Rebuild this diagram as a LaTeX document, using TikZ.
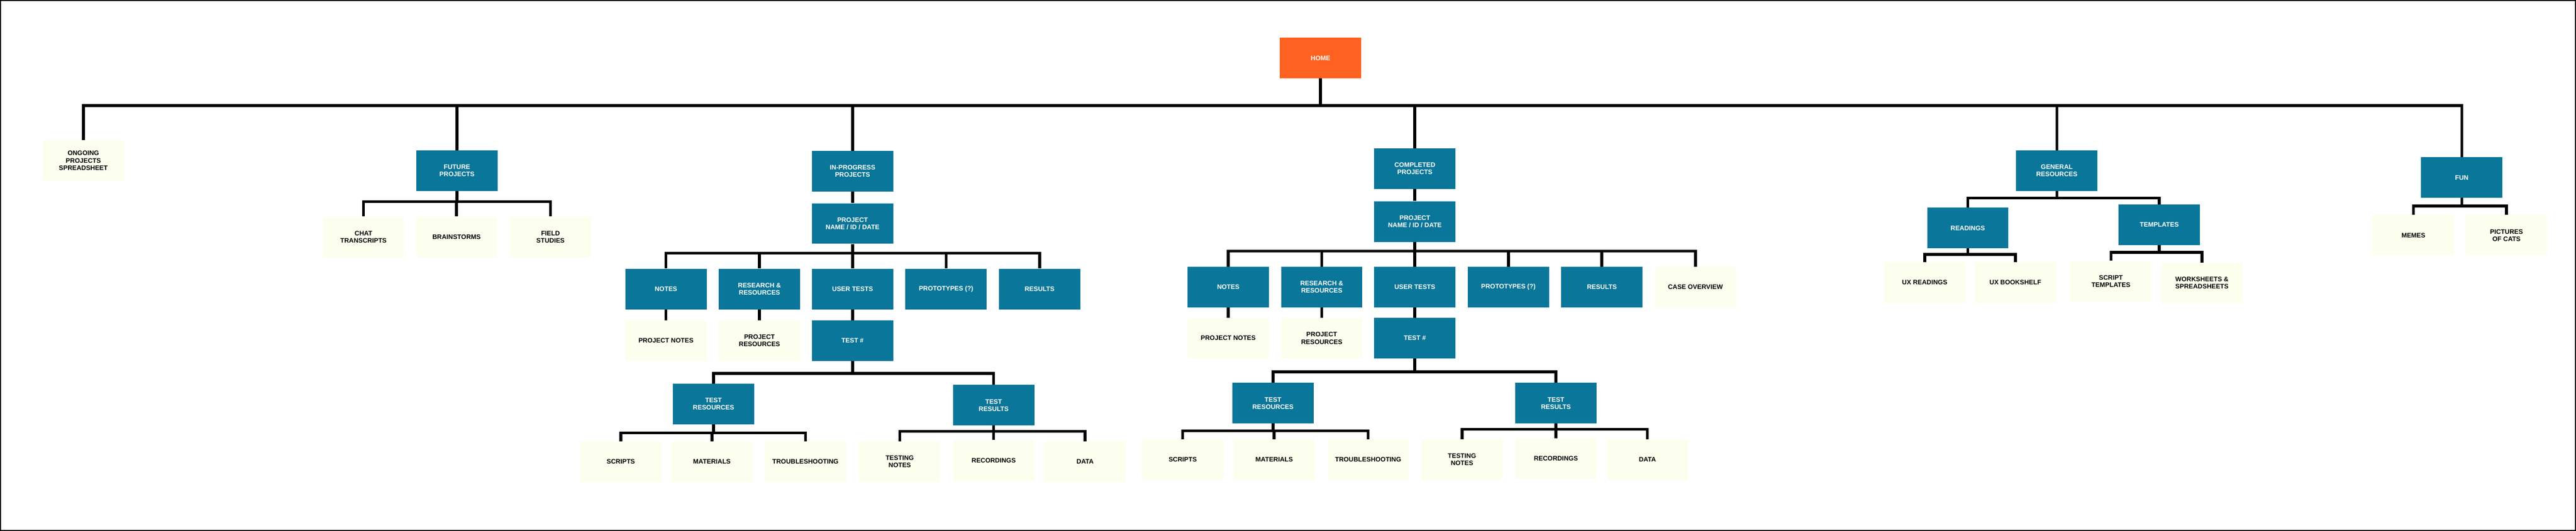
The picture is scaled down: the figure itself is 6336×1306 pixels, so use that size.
\documentclass[tikz,border=0pt]{standalone}
\usepackage{fontspec}
\setmainfont{Liberation Sans}
\definecolor{homeorange}{RGB}{255,98,32}
\definecolor{folderteal}{RGB}{10,118,153}
\definecolor{filecream}{RGB}{253,255,238}
\begin{document}
\begin{tikzpicture}[x=1pt,y=-1pt,
        every node/.style = {shape=rectangle, align=center,
            minimum width=200pt, minimum height=100pt, inner sep=0pt,
            font=\bfseries\fontsize{16}{18}\selectfont},
        homebox/.style = {fill=homeorange, text=white},
        folder/.style = {fill=folderteal, text=white},
        file/.style = {fill=filecream, text=black},
        link/.style = {draw=black, line width=7pt}]
        \useasboundingbox (0,0) rectangle (6336,1306);
        \draw[line width=2pt] (1,1) rectangle (6335,1305);

        % top level
        \node[homebox] (home) at (3248,143) {HOME};
        \node[file] (ongoing) at (205,395) {ONGOING\\PROJECTS\\SPREADSHEET};
        \node[folder] (future) at (1124,420) {FUTURE\\PROJECTS};
        \node[folder] (inprog) at (2097,421) {IN-PROGRESS\\PROJECTS};
        \node[folder] (completed) at (3480,415) {COMPLETED\\PROJECTS};
        \node[folder] (general) at (5059,420) {GENERAL\\RESOURCES};
        \node[folder] (fun) at (6055,437) {FUN};

        % future projects
        \node[file] (chat) at (894,583) {CHAT\\TRANSCRIPTS};
        \node[file] (brain) at (1123,583) {BRAINSTORMS};
        \node[file] (field) at (1354,583) {FIELD\\STUDIES};

        % in-progress projects
        \node[folder] (ipname) at (2097,550) {PROJECT\\NAME / ID / DATE};
        \node[folder] (ipnotes) at (1638,711) {NOTES};
        \node[folder] (ipresearch) at (1868,711) {RESEARCH \&\\RESOURCES};
        \node[folder] (ipuser) at (2097,711) {USER TESTS};
        \node[folder] (ipproto) at (2327,711) {PROTOTYPES (?)};
        \node[folder] (ipresults) at (2557,711) {RESULTS};
        \node[file] (ipprojnotes) at (1638,838) {PROJECT NOTES};
        \node[file] (ipprojres) at (1868,838) {PROJECT\\RESOURCES};
        \node[folder] (iptest) at (2097,838) {TEST \#};
        \node[folder] (iptestres) at (1755,994) {TEST\\RESOURCES};
        \node[folder] (iptestout) at (2444,997) {TEST\\RESULTS};
        \node[file] (ipscripts) at (1527,1136) {SCRIPTS};
        \node[file] (ipmaterials) at (1751,1136) {MATERIALS};
        \node[file] (iptrouble) at (1981,1136) {TROUBLESHOOTING};
        \node[file] (iptestnotes) at (2213,1136) {TESTING\\NOTES};
        \node[file] (iprecord) at (2444,1133) {RECORDINGS};
        \node[file] (ipdata) at (2669,1136) {DATA};

        % completed projects
        \node[folder] (cpname) at (3480,545) {PROJECT\\NAME / ID / DATE};
        \node[folder] (cpnotes) at (3021,706) {NOTES};
        \node[folder] (cpresearch) at (3251,706) {RESEARCH \&\\RESOURCES};
        \node[folder] (cpuser) at (3480,706) {USER TESTS};
        \node[folder] (cpproto) at (3710,706) {PROTOTYPES (?)};
        \node[folder] (cpresults) at (3940,706) {RESULTS};
        \node[file] (cpcase) at (4170,706) {CASE OVERVIEW};
        \node[file] (cpprojnotes) at (3021,832) {PROJECT NOTES};
        \node[file] (cpprojres) at (3251,832) {PROJECT\\RESOURCES};
        \node[folder] (cptest) at (3480,832) {TEST \#};
        \node[folder] (cptestres) at (3131,992) {TEST\\RESOURCES};
        \node[folder] (cptestout) at (3827,992) {TEST\\RESULTS};
        \node[file] (cpscripts) at (2909,1131) {SCRIPTS};
        \node[file] (cpmaterials) at (3134,1131) {MATERIALS};
        \node[file] (cptrouble) at (3365,1131) {TROUBLESHOOTING};
        \node[file] (cptestnotes) at (3596,1131) {TESTING\\NOTES};
        \node[file] (cprecord) at (3827,1128) {RECORDINGS};
        \node[file] (cpdata) at (4052,1131) {DATA};

        % general resources and fun
        \node[folder] (readings) at (4840,561) {READINGS};
        \node[folder] (templates) at (5311,553) {TEMPLATES};
        \node[file] (uxread) at (4734,695) {UX READINGS};
        \node[file] (uxbook) at (4957,695) {UX BOOKSHELF};
        \node[file] (scripttpl) at (5192,692) {SCRIPT\\TEMPLATES};
        \node[file] (worksheets) at (5416,696) {WORKSHEETS \&\\SPREADSHEETS};
        \node[file] (memes) at (5936,579) {MEMES};
        \node[file] (cats) at (6165,579) {PICTURES\\OF CATS};

        % bus points
        \coordinate (homebus) at (3248,260);
        \coordinate (futurebus) at (1124,496);
        \coordinate (ipbus) at (2097,623);
        \coordinate (iptestbus) at (2097,919);
        \coordinate (ipresbus) at (1755,1065);
        \coordinate (ipoutbus) at (2444,1061);
        \coordinate (cpbus) at (3480,618);
        \coordinate (cptestbus) at (3480,915);
        \coordinate (cpresbus) at (3131,1060);
        \coordinate (cpoutbus) at (3827,1056);
        \coordinate (genbus) at (5059,487);
        \coordinate (readbus) at (4840,626);
        \coordinate (tplbus) at (5311,621);
        \coordinate (funbus) at (6055,507);

        % connectors
        \foreach \n in {ongoing,future,inprog,completed,general,fun}
            \draw[link] (home.south) -- (homebus) -| (\n.north);
        \foreach \n in {chat,brain,field}
            \draw[link] (future.south) -- (futurebus) -| (\n.north);

        \draw[link] (inprog) -- (ipname);
        \foreach \n in {ipnotes,ipresearch,ipuser,ipproto,ipresults}
            \draw[link] (ipname.south) -- (ipbus) -| (\n.north);
        \draw[link] (ipnotes) -- (ipprojnotes);
        \draw[link] (ipresearch) -- (ipprojres);
        \draw[link] (ipuser) -- (iptest);
        \foreach \n in {iptestres,iptestout}
            \draw[link] (iptest.south) -- (iptestbus) -| (\n.north);
        \foreach \n in {ipscripts,ipmaterials,iptrouble}
            \draw[link] (iptestres.south) -- (ipresbus) -| (\n.north);
        \foreach \n in {iptestnotes,iprecord,ipdata}
            \draw[link] (iptestout.south) -- (ipoutbus) -| (\n.north);

        \draw[link] (completed) -- (cpname);
        \foreach \n in {cpnotes,cpresearch,cpuser,cpproto,cpresults,cpcase}
            \draw[link] (cpname.south) -- (cpbus) -| (\n.north);
        \draw[link] (cpnotes) -- (cpprojnotes);
        \draw[link] (cpresearch) -- (cpprojres);
        \draw[link] (cpuser) -- (cptest);
        \foreach \n in {cptestres,cptestout}
            \draw[link] (cptest.south) -- (cptestbus) -| (\n.north);
        \foreach \n in {cpscripts,cpmaterials,cptrouble}
            \draw[link] (cptestres.south) -- (cpresbus) -| (\n.north);
        \foreach \n in {cptestnotes,cprecord,cpdata}
            \draw[link] (cptestout.south) -- (cpoutbus) -| (\n.north);

        \foreach \n in {readings,templates}
            \draw[link] (general.south) -- (genbus) -| (\n.north);
        \foreach \n in {uxread,uxbook}
            \draw[link] (readings.south) -- (readbus) -| (\n.north);
        \foreach \n in {scripttpl,worksheets}
            \draw[link] (templates.south) -- (tplbus) -| (\n.north);
        \foreach \n in {memes,cats}
            \draw[link] (fun.south) -- (funbus) -| (\n.north);
    \end{tikzpicture}
\end{document}
